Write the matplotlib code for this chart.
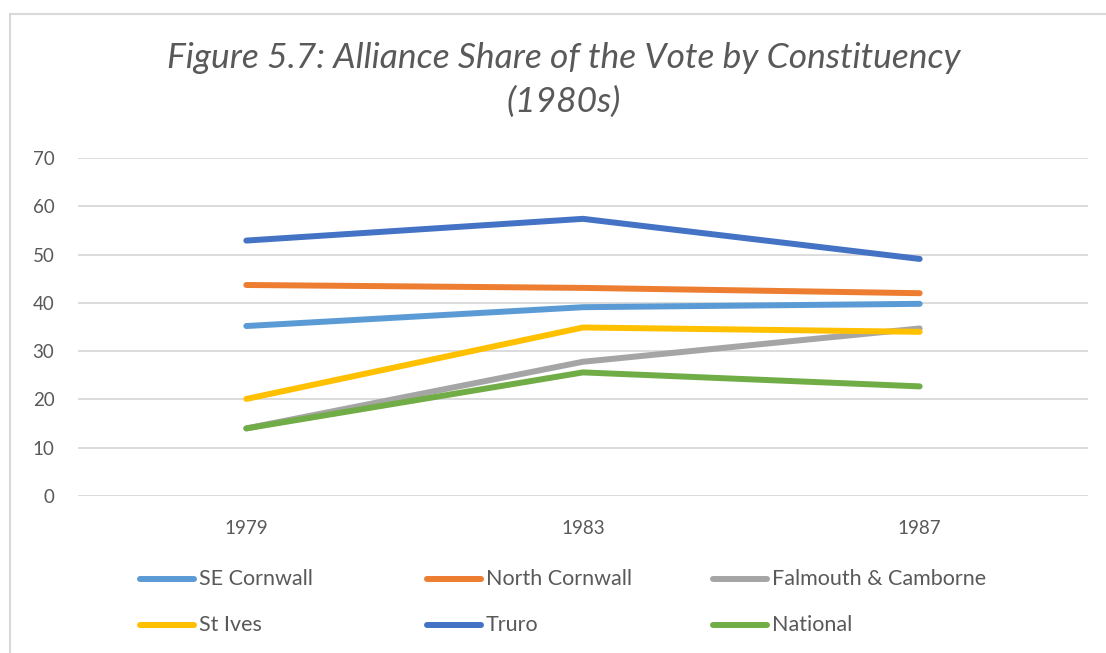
import matplotlib

matplotlib.use("Agg")
import matplotlib.pyplot as plt
from matplotlib.lines import Line2D

years = ["1979", "1983", "1987"]
series_names = ["SE Cornwall", "North Cornwall", "Falmouth & Camborne",
                "St Ives", "Truro", "National"]
se_cornwall = [35.2, 39.1, 39.8]
north_cornwall = [43.7, 43.1, 42.0]
falmouth_camborne = [14.0, 27.8, 34.7]
st_ives = [20.1, 34.9, 34.0]
truro = [52.9, 57.4, 49.1]
national = [14.0, 25.6, 22.7]
series_values = [se_cornwall, north_cornwall, falmouth_camborne,
                 st_ives, truro, national]
colors = ["#5B9BD5", "#ED7D31", "#A5A5A5", "#FFC000", "#4472C4", "#70AD47"]
y_ticks = [0, 10, 20, 30, 40, 50, 60, 70]

TEXT = "#595959"
GRID = "#D9D9D9"
plt.rcParams["font.family"] = ["Lato", "DejaVu Sans"]

W, H = 1106, 653
fig = plt.figure(figsize=(W / 100, H / 100), dpi=100)
ax = fig.add_axes([78 / W, 1 - 496 / H, (1088 - 78) / W, (496 - 158) / H])

x = range(len(years))
for name, vals, c in zip(series_names, series_values, colors):
    ax.plot(x, vals, color=c, linewidth=4.3, solid_capstyle="round", label=name)

ax.set_xlim(-0.5, len(years) - 0.5)
ax.set_ylim(0, 70)
ax.set_yticks(y_ticks)
ax.set_xticks(list(x))
ax.set_xticklabels(years)
ax.yaxis.grid(True, color=GRID, linewidth=1.3)
ax.set_axisbelow(True)
for s in ax.spines.values():
    s.set_visible(False)
ax.tick_params(length=0, labelsize=13.5, colors=TEXT)
ax.tick_params(axis="y", pad=17)
ax.tick_params(axis="x", pad=17)

fig.text(564 / W, 1 - 80 / H, "Figure 5.7: Alliance Share of the Vote by Constituency\n(1980s)",
         ha="center", va="center", fontsize=25.5, style="italic", color=TEXT,
         linespacing=1.45)

# legend laid out row-wise like Excel: three per row
for i, (name, c) in enumerate(zip(series_names, colors)):
    lx = (140 + 286.5 * (i % 3)) / W
    ly = 1 - (579 + 46 * (i // 3)) / H
    fig.add_artist(Line2D([lx, lx + 54 / W], [ly, ly], color=c, linewidth=4.3,
                          solid_capstyle="round", transform=fig.transFigure))
    fig.text(lx + 59 / W, ly, name, ha="left", va="center", fontsize=15.5,
             color=TEXT)

# chart border
fig.add_artist(Line2D([9.5 / W, 9.5 / W], [0, 1 - 13.5 / H], color=GRID, linewidth=1.5,
                      transform=fig.transFigure))
fig.add_artist(Line2D([9.5 / W, 1], [1 - 13.5 / H, 1 - 13.5 / H], color=GRID, linewidth=1.5,
                      transform=fig.transFigure))

fig.savefig("out.png", dpi=100)
